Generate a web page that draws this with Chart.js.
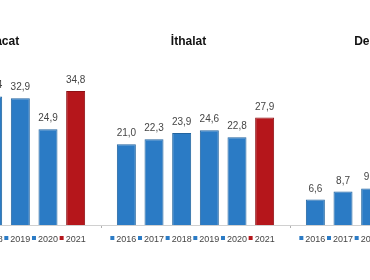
<!DOCTYPE html>
<html>
<head>
<meta charset="utf-8">
<script src="https://cdn.jsdelivr.net/npm/chart.js@4/dist/chart.umd.min.js"></script>
<style>
  html, body { margin: 0; padding: 0; background: #fff; }
  body { width: 370px; height: 280px; overflow: hidden; position: relative; }
  #chart { position: absolute; left: -100px; top: 0; }
</style>
</head>
<body>
<canvas id="chart" width="600" height="280"></canvas>
<script>
const years = ['2016', '2017', '2018', '2019', '2020', '2021'];
const groups = ['İhracat', 'İthalat', 'Dengesi'];
const ihracat = [27.6, 31.0, 33.4, 32.9, 24.9, 34.8];
const ithalat = [21.0, 22.3, 23.9, 24.6, 22.8, 27.9];
const denge = [6.6, 8.7, 9.5, 8.3, 2.1, 6.9];

const blue = '#2b7bc5';
const red = '#b5161b';

const datasets = years.map((y, i) => ({
  label: y,
  data: [ihracat[i], ithalat[i], denge[i]],
  backgroundColor: y === '2021' ? red : blue,
  borderColor: y === '2021' ? '#8e1014' : '#22649f',
  borderWidth: 1,
  categoryPercentage: 0.878,
  barPercentage: 0.687
}));

// etiketler: degerler, yil kutulari ve grup basliklari
const labelsPlugin = {
  id: 'labels',
  afterDatasetsDraw(chart) {
    const ctx = chart.ctx;
    const area = chart.chartArea;
    ctx.save();
    chart.data.datasets.forEach((ds, i) => {
      const meta = chart.getDatasetMeta(i);
      meta.data.forEach((bar, j) => {
        ctx.font = '10px "Liberation Sans", Arial, sans-serif';
        ctx.fillStyle = '#454545';
        ctx.textAlign = 'center';
        ctx.textBaseline = 'alphabetic';
        ctx.fillText(ds.data[j].toFixed(1).replace('.', ','), bar.x, bar.y - 8);

        ctx.font = '9px "Liberation Sans", Arial, sans-serif';
        const w = ctx.measureText(ds.label).width;
        const total = w + 6;
        const x0 = bar.x - total / 2 - 3;
        ctx.fillStyle = ds.backgroundColor;
        ctx.fillRect(x0, area.bottom + 11, 4, 4);
        ctx.fillStyle = '#454545';
        ctx.textAlign = 'left';
        ctx.fillText(ds.label, x0 + 6, area.bottom + 16.5);
      });
    });
    const xs = chart.scales.x;
    ctx.font = 'bold 12px "Liberation Sans", Arial, sans-serif';
    ctx.fillStyle = '#111';
    ctx.textAlign = 'center';
    ctx.textBaseline = 'middle';
    groups.forEach((g, k) => {
      ctx.fillText(g, xs.getPixelForValue(k) - 7, 42);
    });
    ctx.restore();
  }
};

new Chart(document.getElementById('chart'), {
  type: 'bar',
  data: { labels: groups, datasets: datasets },
  options: {
    responsive: false,
    animation: false,
    layout: { padding: { left: 12, right: 21, top: 71, bottom: 52 } },
    scales: {
      x: {
        grid: { offset: true, drawOnChartArea: false, tickLength: 3, color: '#b0b0b0' },
        border: { color: '#d0d0d0' },
        ticks: { display: false }
      },
      y: { display: false, min: 0, max: 40 }
    },
    plugins: {
      legend: { display: false },
      tooltip: { enabled: false }
    }
  },
  plugins: [labelsPlugin]
});
</script>
</body>
</html>
